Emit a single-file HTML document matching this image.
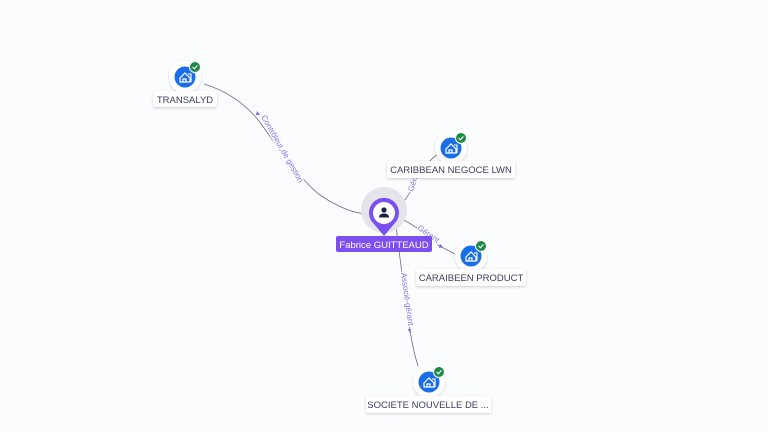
<!DOCTYPE html>
<html><head><meta charset="utf-8"><style>
html,body{margin:0;padding:0;background:#fbfcfe;}
svg{display:block;font-family:"Liberation Sans",sans-serif;}
.lbl{font-size:9.5px;fill:#3a3f5c;}
.el{font-size:8px;fill:#8a72ee;stroke:#fbfcfe;stroke-width:3px;paint-order:stroke;}
</style></head><body>
<svg width="768" height="432" viewBox="0 0 768 432">
<defs>
<filter id="sh" x="-30%" y="-30%" width="160%" height="160%"><feDropShadow dx="0" dy="1" stdDeviation="1.2" flood-color="#000" flood-opacity="0.18"/></filter>
<g id="co">
<circle r="16" fill="#fff" filter="url(#sh)"/>
<circle r="10.5" fill="#1a6fe8"/>
<path d="M-5 1 L0 -4 L5 1 V5 H-5Z M-2 5 V2 H1 V5" fill="none" stroke="#fff" stroke-width="1.2"/>
<path d="M3 -3 H6 V5" fill="none" stroke="#fff" stroke-width="1.1"/>
<circle cx="10" cy="-10" r="5.5" fill="#1d8a45" stroke="#fff" stroke-width="1"/>
<path d="M7.6 -10 L9.4 -8.2 L12.4 -11.6" fill="none" stroke="#fff" stroke-width="1.1"/>
</g>
</defs>
<g fill="none" stroke="#6b6f86" stroke-width="0.8">
<path d="M204 84 Q240 95 262 125 Q300 180 320 195 Q345 212 366 214"/>
<path d="M400 206 Q410 195 418 176 Q428 160 440 153"/>
<path d="M400 218 Q420 228 438 245 Q447 250 455 254"/>
<path d="M396 226 Q405 300 410 330 Q413 350 418 366"/>
</g>
<polygon points="257,111 260,115 256,115" fill="#7b61e8"/>
<polygon points="440,244 443,247 439,248" fill="#7b61e8"/>
<polygon points="408,329 411,329 409.5,333" fill="#7b61e8"/>
<text class="el" transform="translate(261,117) rotate(60)">Contrôleur de gestion</text>
<text class="el" transform="translate(413,192) rotate(-72)">Gérant</text>
<text class="el" transform="translate(417,229) rotate(35)">Gérant</text>
<text class="el" transform="translate(401,273) rotate(82)">Associé-gérant</text>
<use href="#co" x="185" y="77"/>
<rect x="153" y="91" width="64" height="16" rx="2" fill="#fff" filter="url(#sh)"/>
<text class="lbl" x="185" y="103" text-anchor="middle">TRANSALYD</text>
<use href="#co" x="451" y="148"/>
<rect x="387" y="161" width="128" height="17" rx="2" fill="#fff" filter="url(#sh)"/>
<text class="lbl" x="451" y="173" text-anchor="middle">CARIBBEAN NEGOCE LWN</text>
<use href="#co" x="471" y="256"/>
<rect x="416" y="269" width="110" height="17" rx="2" fill="#fff" filter="url(#sh)"/>
<text class="lbl" x="471" y="281" text-anchor="middle">CARAIBEEN PRODUCT</text>
<use href="#co" x="429" y="382"/>
<rect x="366" y="396" width="125" height="17" rx="2" fill="#fff" filter="url(#sh)"/>
<text class="lbl" x="428" y="408" text-anchor="middle">SOCIETE NOUVELLE DE ...</text>
<circle cx="384" cy="210" r="23" fill="#e4e5ea"/>
<path d="M384 236 L374 224 A15 15 0 1 1 394 224 Z" fill="#7b4ff0"/>
<circle cx="384" cy="213" r="11" fill="#fff"/>
<circle cx="384" cy="210" r="2.6" fill="#1d2040"/>
<path d="M379 217.5 Q379 213.5 384 213.5 Q389 213.5 389 217.5Z" fill="#1d2040"/>
<rect x="336" y="236" width="96" height="16" rx="2" fill="#7b4ff0"/>
<text x="384" y="248" text-anchor="middle" font-size="9.5" fill="#fff">Fabrice GUITTEAUD</text>
</svg>
</body></html>
